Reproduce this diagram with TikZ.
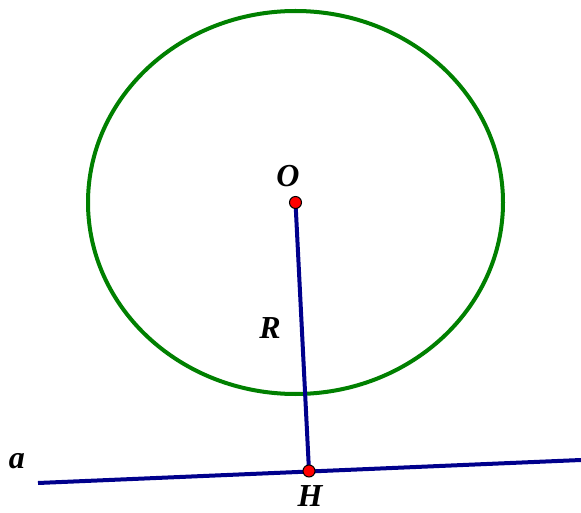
\documentclass[tikz,border=0pt]{standalone}
\usepackage{fontspec}
\setmainfont{Liberation Serif}
\begin{document}
\begin{tikzpicture}[x=1pt,y=-1pt,
  lbl/.style={font=\fontsize{32}{32}\selectfont\bfseries\itshape, anchor=base, inner sep=0pt},
  pt/.style={circle, fill=red, draw=black, line width=1pt, minimum size=12pt, inner sep=0pt},
  blueline/.style={draw={rgb,255:red,0;green,0;blue,140}, line width=4pt}]
\useasboundingbox (0,0) rectangle (581,513);
\draw[draw={rgb,255:red,0;green,128;blue,0}, line width=4pt] (295.5,202.5) ellipse [x radius=207.5, y radius=191.5];
\coordinate (A1) at (38,483);
\coordinate (A2) at (581,460);
\draw[blueline] (A1) -- (A2);
\coordinate (Oc) at (295.5,202.5);
\coordinate (Hc) at (309,471);
\draw[blueline] (Oc) -- (Hc);
\node[pt] (O) at (Oc) {};
\node[pt] (H) at (Hc) {};
\node[lbl] (Ol) at (288,187) {O};
\node[lbl] (Rl) at (270,338) {R};
\node[lbl] (Hl) at (310,506) {H};
\node[lbl] (al) at (17,468) {a};
\end{tikzpicture}
\end{document}
